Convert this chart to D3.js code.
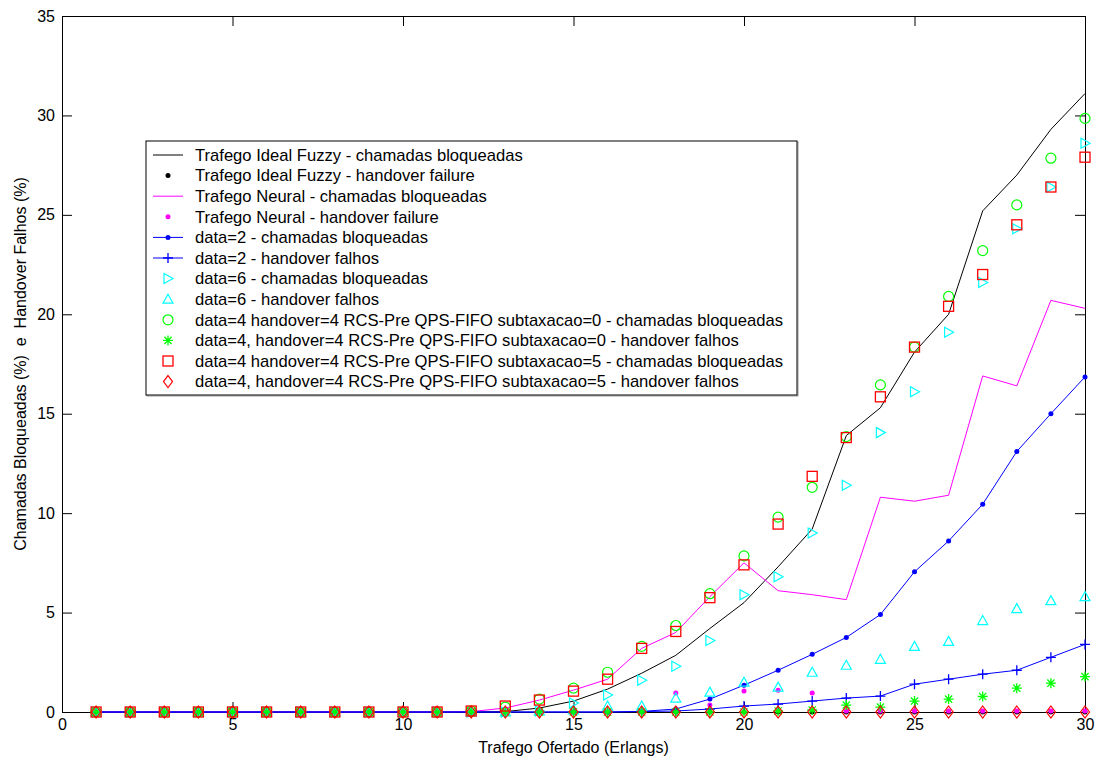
<!DOCTYPE html>
<html>
<head>
<meta charset="utf-8">
<script src="https://cdn.jsdelivr.net/npm/d3@7"></script>
<style>
  html, body { margin: 0; padding: 0; background: #ffffff; }
  svg { display: block; font-family: "Liberation Sans", Arial, sans-serif; }
</style>
</head>
<body>
<svg id="chart" width="1099" height="761"></svg>
<script>
// Offered traffic (Erlangs)
const trafego = [1,2,3,4,5,6,7,8,9,10,11,12,13,14,15,16,17,18,19,20,21,22,23,24,25,26,27,28,29,30];

// Blocked calls / failed handovers (%)
const fuzzyBloqueadas = [0,0,0,0,0,0,0,0,0,0,0,0,0.02,0.2,0.55,1.15,1.95,2.85,4.2,5.5,7.3,9.2,13.9,15.3,18.1,20.0,25.2,27.0,29.3,31.1];
const fuzzyHandover   = [0,0,0,0,0,0,0,0,0,0,0,0,0,0,0,0,0,0,0,0,0,0,0,0,0,0,0,0,0,0];
const neuralBloqueadas = [0,0,0,0,0,0,0,0,0,0,0,0.02,0.2,0.6,1.1,1.65,3.2,4.0,5.8,7.5,6.1,5.9,5.65,10.8,10.6,10.9,16.9,16.4,20.7,20.3];
const neuralHandover   = [0,0,0,0,0,0,0,0,0,0,0,0,0,0,0,0,0.05,0.95,0.35,1.05,1.1,0.95,0.05,0.05,0.05,0.05,0.05,0.05,0.05,0.05];
const data2Bloqueadas = [0,0,0,0,0,0,0,0,0,0,0,0,0,0,0,0,0.03,0.15,0.65,1.35,2.1,2.9,3.75,4.9,7.05,8.6,10.45,13.1,15.0,16.85];
const data2Falhos     = [0,0,0,0,0,0,0,0,0,0,0,0,0,0,0,0,0.02,0.05,0.15,0.3,0.4,0.55,0.7,0.8,1.4,1.65,1.9,2.1,2.75,3.4];
const data6Bloqueadas = [0,0,0,0,0,0,0,0,0,0,0,0,0,0.05,0.45,0.85,1.6,2.3,3.6,5.9,6.8,9.0,11.4,14.05,16.1,19.1,21.6,24.3,26.4,28.6];
const data6Falhos     = [0,0,0,0,0,0,0,0,0,0,0,0,0,0.05,0.1,0.3,0.3,0.7,1.0,1.5,1.25,2.0,2.35,2.65,3.3,3.55,4.6,5.2,5.6,5.8];
const sub0Bloqueadas = [0,0,0,0,0,0,0,0,0,0,0,0.05,0.25,0.65,1.2,2.0,3.3,4.35,5.95,7.85,9.8,11.3,13.85,16.45,18.35,20.9,23.2,25.5,27.85,29.85];
const sub0Falhos     = [0,0,0,0,0,0,0,0,0,0,0,0,0,0,0,0,0,0,0,0,0.05,0.1,0.35,0.25,0.55,0.65,0.78,1.2,1.45,1.78];
const sub5Bloqueadas = [0,0,0,0,0,0,0,0,0,0,0,0.05,0.3,0.6,1.05,1.65,3.2,4.05,5.75,7.4,9.45,11.85,13.8,15.85,18.35,20.4,22.0,24.5,26.4,27.9];
const sub5Falhos     = [0,0,0,0,0,0,0,0,0,0,0,0,0,0,0,0,0,0,0,0,0,0,0,0,0,0,0,0,0,0];

// Axis ticks and labels
const xTicks = [0,5,10,15,20,25,30];
const yTicks = [0,5,10,15,20,25,30,35];
const xLabel = "Trafego Ofertado (Erlangs)";
const yLabel = "Chamadas Bloqueadas (%)  e  Handover Falhos (%)";

const legendLabels = [
  "Trafego Ideal Fuzzy - chamadas bloqueadas",
  "Trafego Ideal Fuzzy - handover failure",
  "Trafego Neural - chamadas bloqueadas",
  "Trafego Neural - handover failure",
  "data=2 - chamadas bloqueadas",
  "data=2 - handover falhos",
  "data=6 - chamadas bloqueadas",
  "data=6 - handover falhos",
  "data=4 handover=4 RCS-Pre QPS-FIFO subtaxacao=0 - chamadas bloqueadas",
  "data=4, handover=4 RCS-Pre QPS-FIFO subtaxacao=0 - handover falhos",
  "data=4 handover=4 RCS-Pre QPS-FIFO subtaxacao=5 - chamadas bloqueadas",
  "data=4, handover=4 RCS-Pre QPS-FIFO subtaxacao=5 - handover falhos"
];

// Series styling: colour, whether a line joins the points, marker kind
const series = [
  { values: fuzzyBloqueadas,  color: "#000000", line: true,  marker: null },
  { values: fuzzyHandover,    color: "#000000", line: false, marker: "dot" },
  { values: neuralBloqueadas, color: "#ff00ff", line: true,  marker: null },
  { values: neuralHandover,   color: "#ff00ff", line: false, marker: "dot" },
  { values: data2Bloqueadas,  color: "#0000ff", line: true,  marker: "dot" },
  { values: data2Falhos,      color: "#0000ff", line: true,  marker: "plus" },
  { values: data6Bloqueadas,  color: "#00ffff", line: false, marker: "triright" },
  { values: data6Falhos,      color: "#00ffff", line: false, marker: "triup" },
  { values: sub0Bloqueadas,   color: "#00ff00", line: false, marker: "circle" },
  { values: sub0Falhos,       color: "#00ff00", line: false, marker: "star" },
  { values: sub5Bloqueadas,   color: "#ff0000", line: false, marker: "square" },
  { values: sub5Falhos,       color: "#ff0000", line: false, marker: "diamond" }
].map((s, i) => ({ ...s, label: legendLabels[i] }));

const svg = d3.select("#chart");
svg.append("rect").attr("width", 1099).attr("height", 761).attr("fill", "#ffffff");

const plotLeft = 62, plotRight = 1085, plotTop = 16, plotBottom = 712;
const x = d3.scaleLinear().domain([0, 30]).range([plotLeft, plotRight]);
const y = d3.scaleLinear().domain([0, 35]).range([plotBottom, plotTop]);

// Axes with inward ticks on all four sides
const axisFont = g => g.selectAll("text")
  .attr("font-size", 16).attr("fill", "#000")
  .attr("font-family", "'Liberation Sans', Arial, sans-serif");
const axisStyle = g => {
  g.select(".domain").attr("stroke", "#000").attr("stroke-width", 1);
  g.selectAll(".tick line").attr("stroke", "#000");
};

svg.append("g").attr("transform", `translate(0,${plotBottom})`)
  .call(d3.axisBottom(x).tickValues(xTicks).tickFormat(d3.format("d"))
        .tickSizeInner(-10).tickSizeOuter(0).tickPadding(7))
  .call(axisStyle).call(axisFont);
svg.append("g").attr("transform", `translate(${plotLeft},0)`)
  .call(d3.axisLeft(y).tickValues(yTicks).tickFormat(d3.format("d"))
        .tickSizeInner(-10).tickSizeOuter(0).tickPadding(7))
  .call(axisStyle).call(axisFont);
svg.append("g").attr("transform", `translate(0,${plotTop})`)
  .call(d3.axisTop(x).tickValues(xTicks).tickFormat("")
        .tickSizeInner(-10).tickSizeOuter(0))
  .call(axisStyle);
svg.append("g").attr("transform", `translate(${plotRight},0)`)
  .call(d3.axisRight(y).tickValues(yTicks).tickFormat("")
        .tickSizeInner(-10).tickSizeOuter(0))
  .call(axisStyle);

// Axis titles
svg.append("text")
  .attr("x", (plotLeft + plotRight) / 2).attr("y", 753)
  .attr("text-anchor", "middle").attr("font-size", 16).attr("fill", "#000")
  .text(xLabel);
svg.append("text")
  .attr("transform", `translate(26,${(plotTop + plotBottom) / 2}) rotate(-90)`)
  .attr("text-anchor", "middle").attr("font-size", 16).attr("fill", "#000")
  .style("white-space", "pre")
  .text(yLabel);

// Marker drawing
function drawMarker(g, kind, color) {
  switch (kind) {
    case "dot":
      g.append("circle").attr("r", 2.5).attr("fill", color);
      break;
    case "plus":
      g.append("path").attr("d", "M-5,0H5M0,-5V5").attr("stroke", color).attr("stroke-width", 1.3).attr("fill", "none");
      break;
    case "star":
      g.append("path").attr("d", "M-5,0H5M0,-5V5M-3.6,-3.6L3.6,3.6M-3.6,3.6L3.6,-3.6")
        .attr("stroke", color).attr("stroke-width", 1.3).attr("fill", "none");
      break;
    case "circle":
      g.append("circle").attr("r", 5).attr("fill", "none").attr("stroke", color).attr("stroke-width", 1.2);
      break;
    case "square":
      g.append("rect").attr("x", -5).attr("y", -5).attr("width", 10).attr("height", 10)
        .attr("fill", "none").attr("stroke", color).attr("stroke-width", 1.3);
      break;
    case "diamond":
      g.append("path").attr("d", "M0,-6L4.5,0L0,6L-4.5,0Z").attr("fill", "none").attr("stroke", color).attr("stroke-width", 1.2);
      break;
    case "triright":
      g.append("path").attr("d", "M-4,-5L5,0L-4,5Z").attr("fill", "none").attr("stroke", color).attr("stroke-width", 1.2);
      break;
    case "triup":
      g.append("path").attr("d", "M0,-5L5,4L-5,4Z").attr("fill", "none").attr("stroke", color).attr("stroke-width", 1.2);
      break;
  }
}

const lineGen = d3.line().x((d, i) => x(trafego[i])).y(d => y(d));

series.forEach(s => {
  const g = svg.append("g");
  if (s.line) {
    g.append("path").datum(s.values).attr("d", lineGen)
      .attr("fill", "none").attr("stroke", s.color).attr("stroke-width", 1);
  }
  if (s.marker) {
    s.values.forEach((v, i) => {
      const m = g.append("g").attr("transform", `translate(${x(trafego[i])},${y(v)})`);
      drawMarker(m, s.marker, s.color);
    });
  }
});

// Legend
const legend = svg.append("g");
const legX = 146, legY = 141, legW = 651, legH = 254, rowStart = 155, rowStep = 20.6;
legend.append("rect").attr("x", legX + 1).attr("y", legY + 1).attr("width", legW).attr("height", legH)
  .attr("fill", "none").attr("stroke", "#9a9a9a").attr("stroke-width", 1);
legend.append("rect").attr("x", legX).attr("y", legY).attr("width", legW).attr("height", legH)
  .attr("fill", "#ffffff").attr("stroke", "#000").attr("stroke-width", 1);
series.forEach((s, i) => {
  const cy = rowStart + i * rowStep;
  if (s.line) {
    legend.append("line").attr("x1", 153).attr("x2", 183).attr("y1", cy).attr("y2", cy)
      .attr("stroke", s.color).attr("stroke-width", 1);
  }
  if (s.marker) {
    drawMarker(legend.append("g").attr("transform", `translate(168,${cy})`), s.marker, s.color);
  }
  legend.append("text").attr("x", 195).attr("y", cy).attr("dy", "0.35em")
    .attr("font-size", 16.6).attr("fill", "#000").text(s.label);
});
</script>
</body>
</html>
